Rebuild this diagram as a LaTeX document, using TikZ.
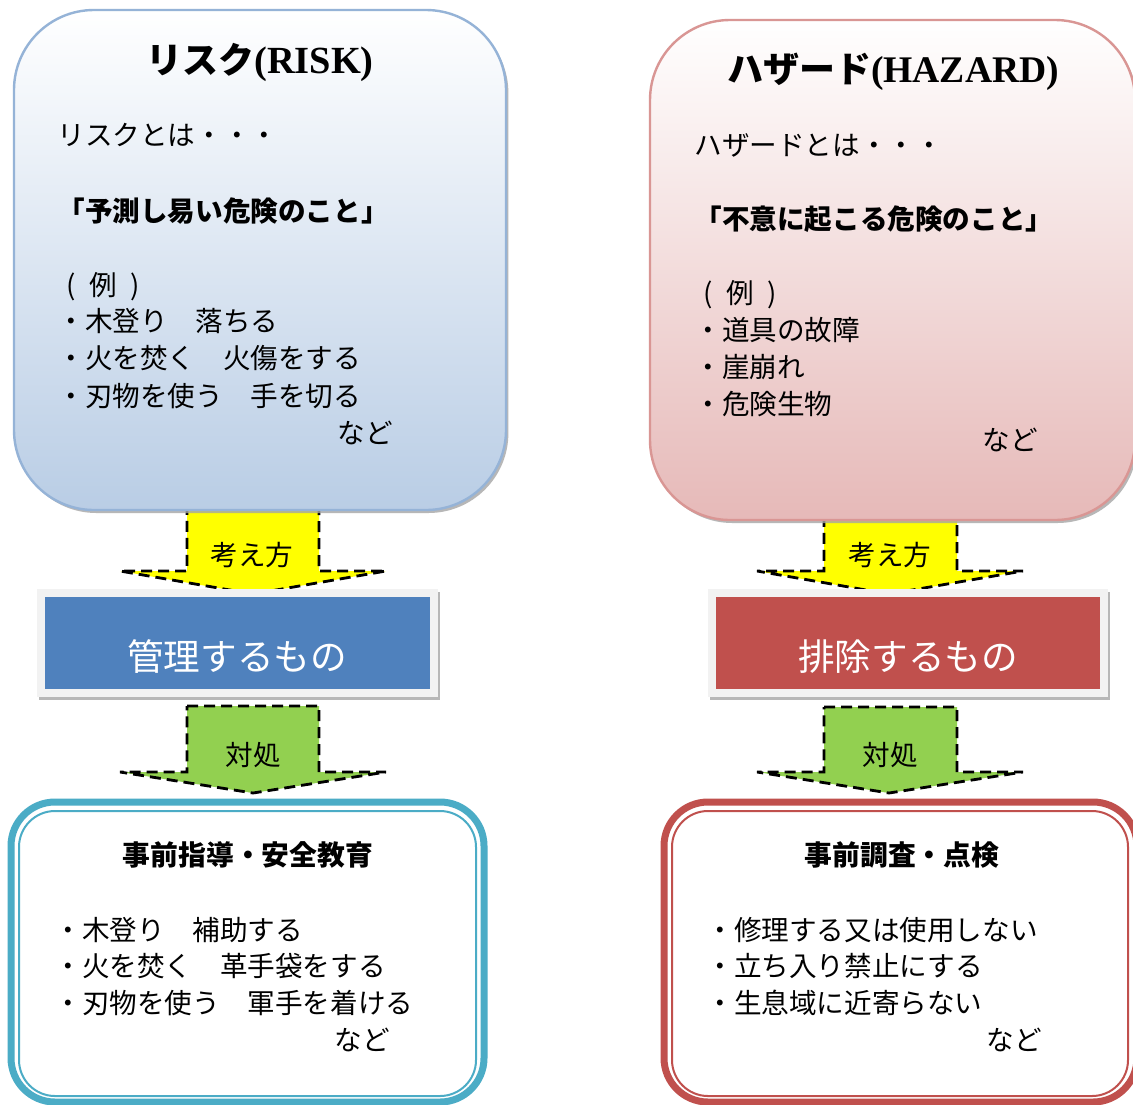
\documentclass[tikz,border=0pt]{standalone}
\usepackage{fontspec}
\newfontfamily\jp{Noto Sans CJK JP}
\newfontfamily\lserif{Liberation Serif}
\usetikzlibrary{shadows}
\definecolor{riskline}{HTML}{95B3D7}
\definecolor{riskbot}{HTML}{B9CDE5}
\definecolor{hazline}{HTML}{D99694}
\definecolor{hazbot}{HTML}{E6B9B8}
\definecolor{riskmid}{HTML}{4F81BD}
\definecolor{hazmid}{HTML}{C0504D}
\definecolor{framegray}{HTML}{F2F2F2}
\definecolor{riskband}{HTML}{4BACC6}
\definecolor{hazband}{HTML}{C0504D}
\definecolor{arrowyellow}{HTML}{FFFF00}
\definecolor{arrowgreen}{HTML}{92D050}
\definecolor{shadowgray}{HTML}{A6A6A6}
\newcommand{\cparen}[1]{\makebox[1em][c]{#1}}
\tikzset{
  topbox/.style={draw, line width=1.2pt, rounded corners=40pt, top color=white,
    drop shadow={shadow xshift=1.2pt, shadow yshift=-1.5pt, fill=shadowgray, opacity=0.8}},
  frame/.style={fill=framegray, draw=none, inner sep=0pt,
    drop shadow={shadow xshift=1pt, shadow yshift=-1.5pt, fill=shadowgray, opacity=0.8}},
  midrect/.style={draw=none, inner sep=0pt},
  band/.style={draw, line width=3.5pt, rounded corners=22pt, fill=white},
  innerband/.style={draw, line width=1pt, rounded corners=18pt},
  blockarrow/.style={draw=black, line width=1.4pt, dash pattern=on 5.5pt off 3pt},
  txt/.style={inner sep=0pt, anchor=base west, font=\jp\fontsize{13.8}{16}\selectfont},
  txtb/.style={inner sep=0pt, anchor=base west, font=\jp\bfseries\fontsize{13.8}{16}\selectfont},
  ctxt/.style={inner sep=0pt, anchor=base, font=\jp\fontsize{13.8}{16}\selectfont},
  ctxtb/.style={inner sep=0pt, anchor=base, font=\jp\bfseries\fontsize{13.9}{16}\selectfont},
  ttl/.style={inner sep=0pt, anchor=base, font=\jp\bfseries\fontsize{18}{20}\selectfont},
  midtxt/.style={inner sep=0pt, anchor=base, text=white, font=\jp\fontsize{18.3}{20}\selectfont},
}
\begin{document}
\begin{tikzpicture}[x=0.5pt,y=-0.5pt]
\useasboundingbox (0,0) rectangle (1133,1104);
\fill[white] (0,0) rectangle (1133,1104);

% ---------- block arrows (yellow) ----------
\draw[blockarrow, fill=arrowyellow] (187,500) -- (319,500) -- (319,571) -- (386,571) -- (253,594) -- (120,571) -- (187,571) -- cycle;
\draw[blockarrow, fill=arrowyellow] (824,505) -- (957,505) -- (957,571) -- (1023,571) -- (889,594) -- (757,571) -- (824,571) -- cycle;

% ---------- top boxes ----------
\node[topbox, draw=riskline, bottom color=riskbot, minimum width=246pt, minimum height=250pt] (riskbox) at (260,260) {};
\node[topbox, draw=hazline, bottom color=hazbot, minimum width=242.5pt, minimum height=250pt] (hazbox) at (892.5,270) {};

% titles
\node[ttl] (risktitle) at (260,73) {リスク{\lserif\bfseries\fontsize{19.2}{20}\selectfont (RISK)}};
\node[ttl] (haztitle) at (893,82) {ハザード{\lserif\bfseries\fontsize{18.8}{20}\selectfont (HAZARD)}};

% left top text
\node[txt] (r1) at (57,145) {リスクとは・・・};
\node[txtb] (r2) at (57,221) {「予測し易い危険のこと」};
\node[txt] (r3) at (57,295) {\cparen{(}\,例\,\cparen{)}};
\node[txt] (r4) at (57,331) {・木登り　落ちる};
\node[txt] (r5) at (57,368) {・火を焚く　火傷をする};
\node[txt] (r6) at (57,406) {・刃物を使う　手を切る};
\node[txt] (r7) at (337,443) {など};

% right top text
\node[txt] (h1) at (694,155) {ハザードとは・・・};
\node[txtb] (h2) at (694,229) {「不意に起こる危険のこと」};
\node[txt] (h3) at (694,303) {\cparen{(}\,例\,\cparen{)}};
\node[txt] (h4) at (694,340) {・道具の故障};
\node[txt] (h5) at (694,377) {・崖崩れ};
\node[txt] (h6) at (694,414) {・危険生物};
\node[txt] (h7) at (982,450) {など};

\node[ctxt] (ryel) at (252,565) {考え方};
\node[ctxt] (hyel) at (890,565) {考え方};

% ---------- middle rectangles ----------
\node[frame, minimum width=200.5pt, minimum height=54pt] (riskframe) at (237.5,643) {};
\node[midrect, fill=riskmid, minimum width=192.5pt, minimum height=46pt] (riskmidbox) at (237.5,643) {};
\node[midtxt] (risktxt) at (237,670) {管理するもの};

\node[frame, minimum width=200pt, minimum height=54pt] (hazframe) at (908,643) {};
\node[midrect, fill=hazmid, minimum width=192pt, minimum height=46pt] (hazmidbox) at (908,643) {};
\node[midtxt] (haztxt) at (908,670) {排除するもの};

% ---------- block arrows (green) ----------
\draw[blockarrow, fill=arrowgreen] (187,706) -- (319,706) -- (319,772) -- (386,772) -- (253,793) -- (120,772) -- (187,772) -- cycle;
\draw[blockarrow, fill=arrowgreen] (824,707) -- (957,707) -- (957,772) -- (1023,772) -- (889,793) -- (757,772) -- (824,772) -- cycle;
\node[ctxt] (rgrn) at (253,765) {対処};
\node[ctxt] (hgrn) at (890,765) {対処};

% ---------- bottom boxes ----------
\node[band, draw=riskband, minimum width=236.5pt, minimum height=150pt] (riskbottom) at (247.5,952) {};
\node[innerband, draw=riskband, minimum width=228.5pt, minimum height=142.5pt] (riskinner) at (247.5,953.5) {};
\node[band, draw=hazband, minimum width=236.5pt, minimum height=150pt] (hazbottom) at (900.5,952) {};
\node[innerband, draw=hazband, minimum width=228pt, minimum height=142.5pt] (hazinner) at (900,953.5) {};

\node[ctxtb] (rb0) at (248,865) {事前指導・安全教育};
\node[txt] (rb1) at (54,940) {・木登り　補助する};
\node[txt] (rb2) at (54,976) {・火を焚く　革手袋をする};
\node[txt] (rb3) at (54,1013) {・刃物を使う　軍手を着ける};
\node[txt] (rb4) at (334,1050) {など};

\node[ctxtb] (hb0) at (902,865) {事前調査・点検};
\node[txt] (hb1) at (706,940) {・修理する又は使用しない};
\node[txt] (hb2) at (706,976) {・立ち入り禁止にする};
\node[txt] (hb3) at (706,1013) {・生息域に近寄らない};
\node[txt] (hb4) at (986,1050) {など};
\end{tikzpicture}
\end{document}
